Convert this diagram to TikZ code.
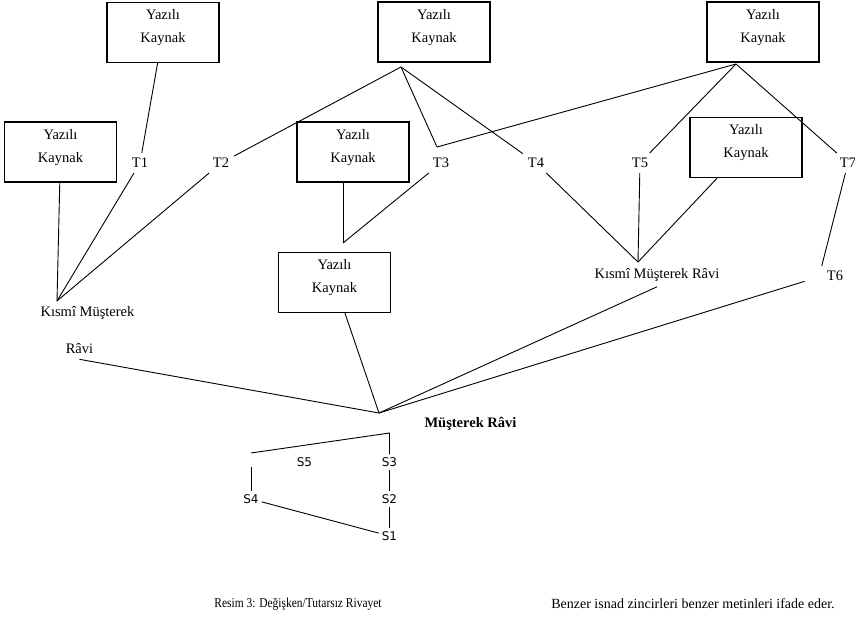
\documentclass[tikz,border=0pt]{standalone}
\usepackage{fontspec}
\setmainfont{Liberation Serif}
\newfontfamily\zincirfont{DejaVu Sans}
\usetikzlibrary{positioning}
\tikzstyle{kaynak} = [draw, rectangle, line width=1.1pt, minimum width=112pt,
                      minimum height=60pt, inner sep=0pt, align=center,
                      font=\fontsize{14.5}{23}\selectfont]
\tikzstyle{tarik}  = [inner sep=5pt, font=\fontsize{14.5}{17}\selectfont]
\tikzstyle{senet}  = [inner sep=3pt, font=\zincirfont\fontsize{12}{14}\selectfont]
\tikzstyle{hat}    = [line width=0.9pt]
\newcommand{\yazilikaynak}{Yazılı\\Kaynak\\[-10pt]\mbox{}}

\begin{document}
\begin{tikzpicture}[x=1pt, y=-1pt]
  \useasboundingbox (0,0) rectangle (855,622);

  % --- Yazili kaynaklar ---
  \node[kaynak] (b1) at (163,32.5)  {\yazilikaynak};
  \node[kaynak] (b2) at (60.5,152)  {\yazilikaynak};
  \node[kaynak] (b3) at (434,32)    {\yazilikaynak};
  \node[kaynak] (b4) at (353,152)   {\yazilikaynak};
  \node[kaynak] (b5) at (763,32)    {\yazilikaynak};
  \node[kaynak] (b6) at (746,147.5) {\yazilikaynak};
  \node[kaynak] (b7) at (334.5,282.5) {\yazilikaynak};

  % --- Tarikler ---
  \node[tarik] (t1) at (140,163) {T1};
  \node[tarik] (t2) at (221,163) {T2};
  \node[tarik] (t3) at (441,163) {T3};
  \node[tarik] (t4) at (536,163) {T4};
  \node[tarik] (t5) at (640,163) {T5};
  \node[tarik] (t7) at (848,163) {T7};
  \node[tarik] (t6) at (835,276) {T6};

  % Ravi etiketleri
  \node[tarik] (km1)  at (87.5,313) {Kısmî Müşterek};
  \node[tarik] (ravi) at (79.5,349) {Râvi};
  \node[tarik] (kmr)  at (657,275)  {Kısmî Müşterek Râvi};
  \node[tarik, font=\fontsize{14.5}{17}\selectfont\bfseries] (mr) at (470.5,424) {Müşterek Râvi};

  % Birlesme noktalari
  \coordinate (b3j)  at (401,67);
  \coordinate (b5j)  at (736,64);
  \coordinate (t3j)  at (437,147);
  \coordinate (kmj)  at (57,301);
  \coordinate (kmrj) at (638,262);
  \coordinate (b7j)  at (343,243);
  \coordinate (mrj)  at (379,413);

  % Connections
  \draw[hat] (b1) -- (t1);
  \foreach \x in {b2,t1,t2} \draw[hat] (\x) -- (kmj);
  \foreach \x in {t2,t3j,t4} \draw[hat] (b3j) -- (\x);
  \foreach \x in {t3j,t5,t7} \draw[hat] (b5j) -- (\x);
  \foreach \x in {t4,t5,b6} \draw[hat] (\x) -- (kmrj);
  \draw[hat] (t3) -- (b7j);
  \draw[hat] (b7j |- b4.south) -- (b7j);
  \draw[hat] (t7) -- (t6.north west);
  \draw[hat] (b7) -- (mrj);
  \draw[hat] (ravi.south) -- (mrj);
  \draw[hat] (kmr.south) -- (mrj);
  \draw[hat, shorten <=18pt] (t6.west) -- (mrj);

  % --- Senet zinciri ---
  \node[senet] (s5) at (304.5,462) {S5};
  \node[senet] (s3) at (389.5,462) {S3};
  \node[senet] (s4) at (251,499)   {S4};
  \node[senet] (s2) at (389.5,499) {S2};
  \node[senet] (s1) at (389.5,536) {S1};
  \coordinate (s3j) at (389.5,433);
  \coordinate (s5j) at (251,453);
  \coordinate (s4j) at (251,467);

  \draw[hat] (s5j) -- (s3j) -- (s3);
  \draw[hat] (s3) -- (s2);
  \draw[hat] (s2) -- (s1);
  \draw[hat] (s4j) -- (s4);
  \draw[hat] (s4) -- (s1);

  % Alt yazilar
  \node[font=\fontsize{13.5}{16}\selectfont] (res) at (298,604) {\scalebox{0.85}[1]{Resim 3: Değişken/Tutarsız Rivayet}};
  \node[font=\fontsize{14}{16}\selectfont] (not) at (693,604) {Benzer isnad zincirleri benzer metinleri ifade eder.};
\end{tikzpicture}
\end{document}
